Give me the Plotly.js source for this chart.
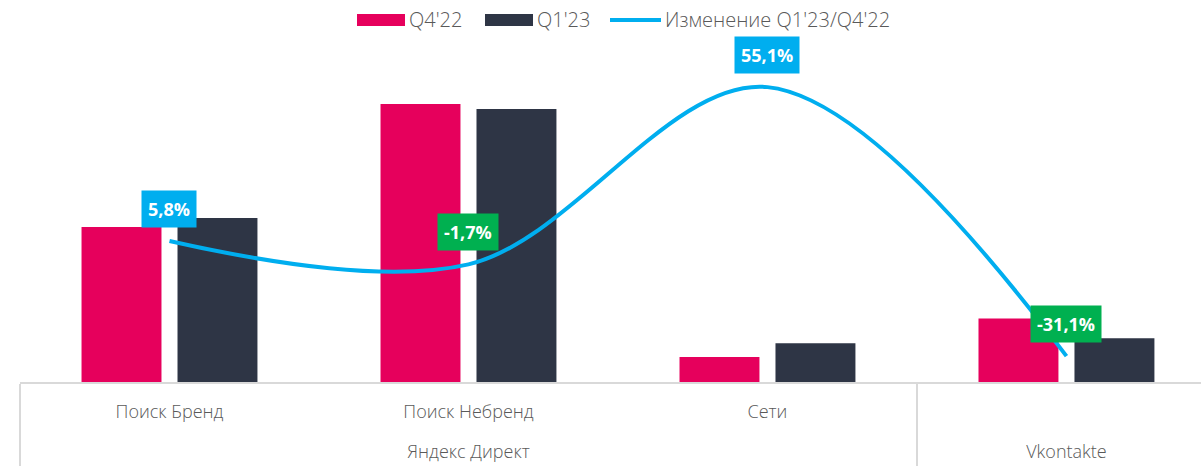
<!DOCTYPE html>
<html><head><meta charset="utf-8">
<script src="https://cdn.plot.ly/plotly-3.0.1.min.js"></script>
<style>html,body{margin:0;padding:0;background:#fff;overflow:hidden}</style>
</head><body><div id="chart" style="width:1201px;height:466px"></div>
<script>
const groups = ["Яндекс Директ","Яндекс Директ","Яндекс Директ","Vkontakte"];
const categories = ["Поиск Бренд","Поиск Небренд","Сети"," "];
const q4_22 = [155, 278, 25, 63.5];
const q1_23 = [164, 273, 38.8, 43.7];
const change = [5.8, -1.7, 55.1, -31.1];
const changeLabels = ["5,8%","-1,7%","55,1%","-31,1%"];
const labelColors = ["#00AEEF","#00B050","#00AEEF","#00B050"];
const seriesNames = ["Q4'22","Q1'23","Изменение Q1'23/Q4'22"];

const PINK = "#E6005C", DARK = "#2E3545", BLUE = "#00AEEF", GRAY = "#595959";
const FONT = "Open Sans";
const W = 1201, H = 466, ML = 20, MT = 40, MB = 84;
const plotW = W - ML, plotH = H - MT - MB;
const px = x => (x - ML) / plotW;
const py = y => (H - MB - y) / plotH;

// extra blank line under each label row to space the two levels like the original
const spacer = "<br><span style='font-size:26px'>&nbsp;</span>";
const xcat = [groups.map(g => g + spacer), categories.map(c => c + spacer)];
const traces = [
  {type:"bar", name:seriesNames[0], x:xcat, y:q4_22, marker:{color:PINK}, hoverinfo:"skip"},
  {type:"bar", name:seriesNames[1], x:xcat, y:q1_23, marker:{color:DARK}, hoverinfo:"skip"},
  {type:"scatter", mode:"lines", name:seriesNames[2], x:xcat, y:change, yaxis:"y2",
   line:{color:BLUE, width:4, shape:"spline", smoothing:1}, hoverinfo:"skip"}
];

const annotations = change.map((v,i)=>({
  xref:"x", yref:"y2", x:i, y:v, yshift:32, showarrow:false,
  text:"<b>"+changeLabels[i]+"</b>", bgcolor:labelColors[i], borderpad:6,
  font:{family:FONT, size:18, color:"#fff"}
}));
// custom legend
const legendY = 20;
const legItems = [
  {x0:357, x1:405, tx:407, text:seriesNames[0], kind:"rect", color:PINK},
  {x0:485, x1:533, tx:535, text:seriesNames[1], kind:"rect", color:DARK},
  {x0:610, x1:661, tx:663, text:seriesNames[2], kind:"line", color:BLUE}
];
const shapes = [];
legItems.forEach(it=>{
  if (it.kind==="rect") shapes.push({type:"rect", xref:"paper", yref:"paper", x0:px(it.x0), x1:px(it.x1), y0:py(legendY+6), y1:py(legendY-6), fillcolor:it.color, line:{width:0}});
  else shapes.push({type:"line", xref:"paper", yref:"paper", x0:px(it.x0), x1:px(it.x1), y0:py(legendY), y1:py(legendY), line:{color:it.color, width:4}});
  annotations.push({xref:"paper", yref:"paper", x:px(it.tx), y:py(legendY), xanchor:"left", yanchor:"middle", showarrow:false, text:it.text, font:{family:FONT, size:20, weight:300, color:GRAY}});
});

const layout = {
  width:W, height:H, margin:{l:ML, r:0, t:MT, b:MB},
  paper_bgcolor:"#fff", plot_bgcolor:"#fff", showlegend:false,
  barmode:"group", bargap:0.358, bargroupgap:0.167,
  font:{family:FONT, color:GRAY},
  xaxis:{type:"multicategory", range:[-0.5, 3.45], showline:true, linecolor:"#D9D9D9", linewidth:2,
    showdividers:true, dividercolor:"#D9D9D9", dividerwidth:2, tickfont:{family:FONT, size:18, weight:300, color:GRAY},
    ticks:"", ticklabelstandoff:12, showgrid:false, zeroline:false},
  yaxis:{range:[0, plotH], visible:false, showgrid:false, zeroline:false},
  yaxis2:{overlaying:"y", range:[-39.4, 70.2], visible:false, showgrid:false, zeroline:false},
  annotations, shapes
};
Plotly.newPlot("chart", traces, layout, {staticPlot:true});
</script></body></html>
